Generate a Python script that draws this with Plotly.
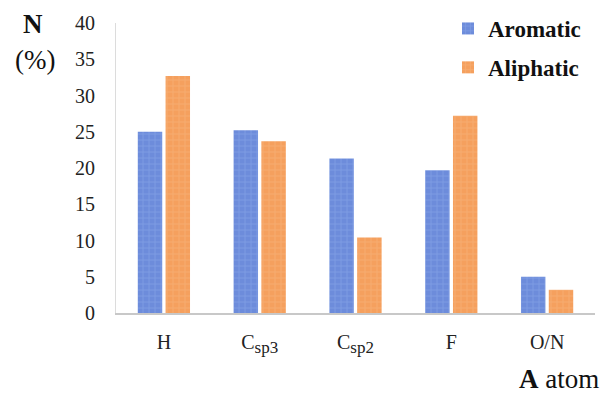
import plotly.graph_objects as go

categories = ["H",
              "C<sub><span style='font-size:17px'>sp3</span></sub>",
              "C<sub><span style='font-size:17px'>sp2</span></sub>",
              "F", "O/N"]
aromatic = [25.0, 25.2, 21.3, 19.7, 5.0]
aliphatic = [32.7, 23.7, 10.4, 27.2, 3.2]
y_ticks = [0, 5, 10, 15, 20, 25, 30, 35, 40]

FONT = "Liberation Serif, Times New Roman, serif"

fig = go.Figure()
fig.add_trace(go.Bar(
    x=categories, y=aromatic, name="<b>Aromatic</b>", legendgroup="a",
    marker=dict(color="#6d8cdb", line=dict(width=0),
                pattern=dict(shape="+", fgcolor="#93b0ec", size=6, solidity=0.25)),
))
fig.add_trace(go.Bar(
    x=categories, y=aliphatic, name="<b>Aliphatic</b>", legendgroup="b",
    marker=dict(color="#f5a05e", line=dict(width=0),
                pattern=dict(shape="+", fgcolor="#f8bc88", size=6, solidity=0.25)),
))

L, R, T, B = 116, 12, 23, 81
W, H = 607, 394
pw = W - L - R
ph = H - T - B


def px(xp):
    return (xp - L) / pw


def py(yp):
    return (H - B - yp) / ph


fig.update_layout(
    width=W, height=H,
    margin=dict(l=L, r=R, t=T, b=B, pad=0, autoexpand=False),
    paper_bgcolor="white", plot_bgcolor="white",
    barmode="group", bargap=0.42, bargroupgap=0.12,
    font=dict(family=FONT, size=20, color="#222"),
    showlegend=True,
    legend=dict(x=px(448), y=py(7), xanchor="left", yanchor="top",
                font=dict(family=FONT, size=23, color="#111"),
                itemwidth=30, tracegroupgap=6, bgcolor="rgba(0,0,0,0)"),
    xaxis=dict(showline=True, linecolor="#c8c8c8", linewidth=2,
               ticks="", tickfont=dict(family=FONT, size=20, color="#222"),
               showgrid=False, ticklabelstandoff=10),
    yaxis=dict(range=[0, 40], tickvals=y_ticks, showline=True, linecolor="#dcdcdc",
               linewidth=1, ticks="", showgrid=False, zeroline=False,
               tickfont=dict(family=FONT, size=20, color="#222"), ticklabelstandoff=16),
    annotations=[
        dict(text="<b>N</b>", x=px(33), y=py(24), xref="paper", yref="paper",
             xanchor="center", yanchor="middle",
             showarrow=False, font=dict(family=FONT, size=27, color="#111")),
        dict(text="(%)", x=px(35), y=py(60), xref="paper", yref="paper",
             xanchor="center", yanchor="middle",
             showarrow=False, font=dict(family=FONT, size=27, color="#111")),
        dict(text="<b>A</b> atom", x=px(601), y=py(379), xref="paper", yref="paper",
             xanchor="right", yanchor="middle",
             showarrow=False, font=dict(family=FONT, size=27, color="#111")),
    ],
)

fig.write_html("out.html", post_script="document.body.style.margin='0';",
               config={"displayModeBar": False})
